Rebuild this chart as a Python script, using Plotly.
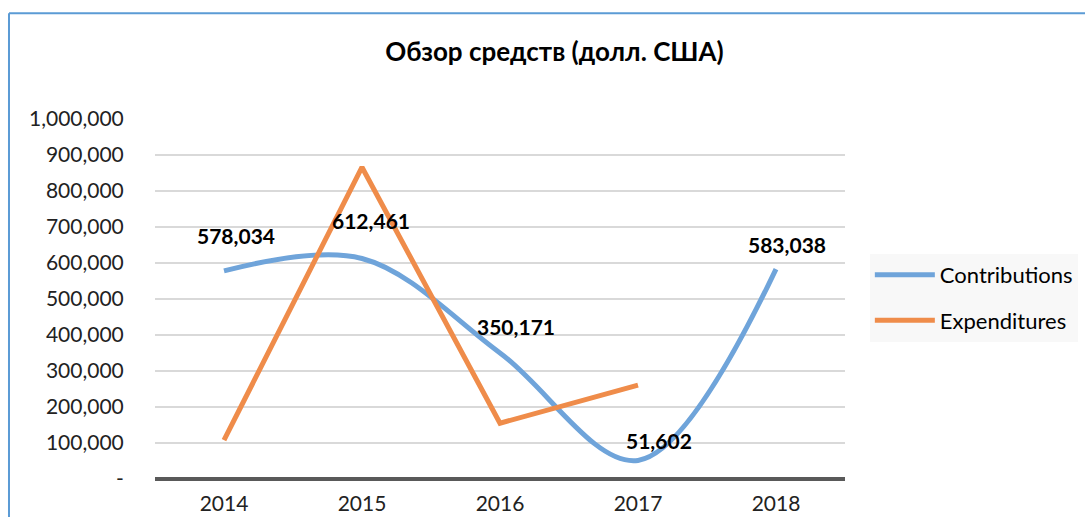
import plotly.graph_objs as go

years = ['2014', '2015', '2016', '2017', '2018']
contributions = [578034, 612461, 350171, 51602, 583038]
expenditures = [108000, 866000, 155000, 261000]
contribution_labels = ['578,034', '612,461', '350,171', '51,602', '583,038']
y_ticks = [0, 100000, 200000, 300000, 400000, 500000, 600000, 700000, 800000, 900000, 1000000]
y_tick_text = ['-', '100,000', '200,000', '300,000', '400,000', '500,000', '600,000',
               '700,000', '800,000', '900,000', '1,000,000']

font_family = 'Lato, Open Sans, sans-serif'
blue = '#6fa4da'
orange = '#ef8c4a'

fig = go.Figure()
fig.add_trace(go.Scatter(x=years, y=contributions, name='Contributions', mode='lines',
                         legendgroup='c',
                         line=dict(color=blue, width=5, shape='spline', smoothing=1.0)))
fig.add_trace(go.Scatter(x=years[:len(expenditures)], y=expenditures, name='Expenditures', mode='lines',
                         legendgroup='e',
                         line=dict(color=orange, width=5)))

# bold value labels sitting above/right of the contribution points (pixel nudges, like Excel)
label_nudges = [(12, 35), (9, 38), (16, 26), (21, 20), (11, 25)]
for i, (val, txt) in enumerate(zip(contributions, contribution_labels)):
    dx, dy = label_nudges[i]
    fig.add_annotation(x=i, y=val, text='<b>%s</b>' % txt, showarrow=False,
                       xshift=dx, yshift=dy, font=dict(size=21, color='black', family=font_family))

# chart frame (only left and top edges are inside the picture)
fig.add_shape(type='line', xref='paper', yref='paper', x0=-0.2116, x1=1.5, y0=1.294, y1=1.294,
              line=dict(color='#5b9bd5', width=2))
fig.add_shape(type='line', xref='paper', yref='paper', x0=-0.2116, x1=-0.2116, y0=1.294, y1=-0.3,
              line=dict(color='#5b9bd5', width=2))

fig.update_layout(
    width=1085, height=517,
    margin=dict(l=155, r=240, t=119, b=38, autoexpand=False),
    paper_bgcolor='white', plot_bgcolor='white',
    font=dict(family=font_family, size=21, color='#222'),
    title=dict(text='<b>Обзор средств (долл. США)</b>', x=0.511, xanchor='center',
               y=0.899, yanchor='middle', font=dict(size=26, color='black', family=font_family)),
    showlegend=True,
    legend=dict(x=1.036, xanchor='left', y=0.503, yanchor='middle', bgcolor='#f8f8f8',
                font=dict(size=22, color='black'), tracegroupgap=14, itemwidth=60),
    xaxis=dict(type='category', range=[-0.5, 4.5], showgrid=False, zeroline=False, showline=False,
               ticks='outside', ticklen=6, tickcolor='rgba(0,0,0,0)', automargin=False,
               tickfont=dict(size=21, color='#222')),
    yaxis=dict(range=[0, 1000000], tickvals=y_ticks, ticktext=y_tick_text,
               showgrid=True, gridcolor='#d9d9d9', gridwidth=1.5,
               zeroline=True, zerolinecolor='#595959', zerolinewidth=4,
               ticks='outside', ticklen=26, tickcolor='rgba(0,0,0,0)', automargin=False,
               tickfont=dict(size=21, color='#222')),
)

fig.write_html('out.html', config={'displayModeBar': False},
               post_script="document.body.style.margin='0';")
